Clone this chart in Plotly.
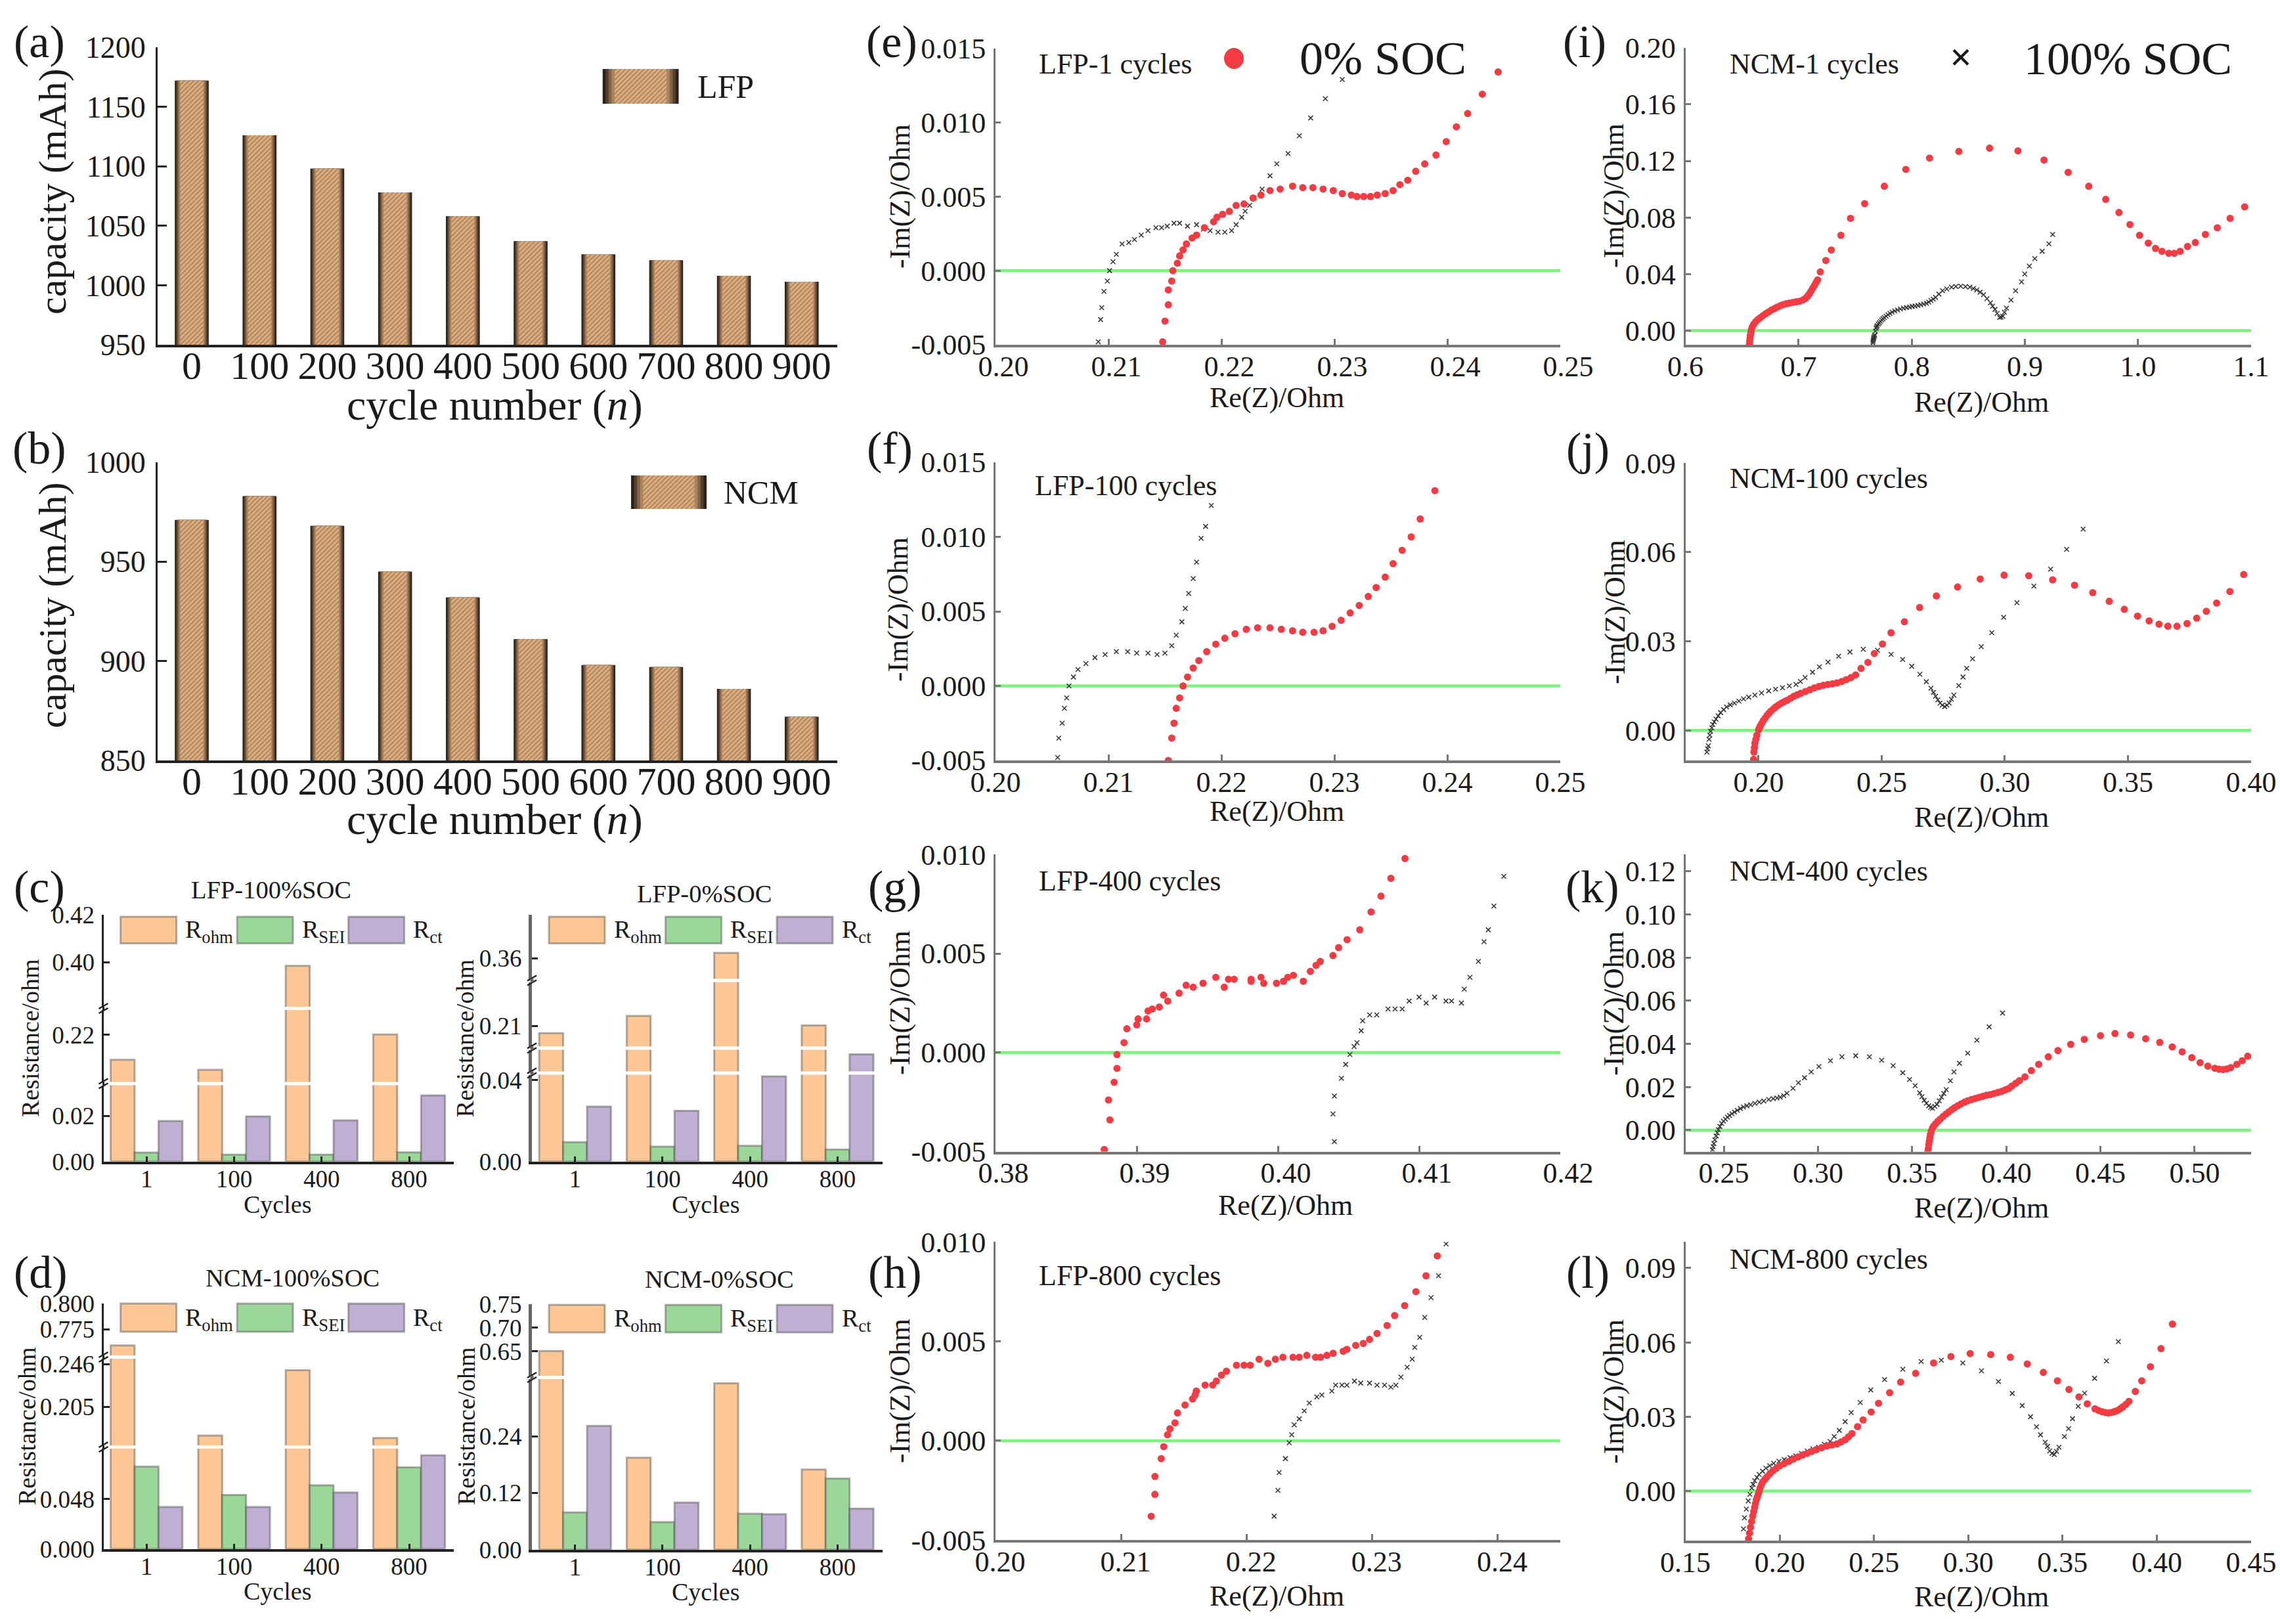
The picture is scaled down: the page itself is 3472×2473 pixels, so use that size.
import plotly.graph_objects as go

W, H = 3472, 2473
FONT = "Liberation Serif"

# ---------- capacity data ----------
cycle_labels = ["0", "100", "200", "300", "400", "500", "600", "700", "800", "900"]
lfp_capacity = [1172, 1126, 1098, 1078, 1058, 1037, 1026, 1021, 1008, 1003]
ncm_capacity = [971, 983, 968, 945, 932, 911, 898, 897, 886, 872]
legend_key = [1]

# ---------- resistance data ----------
res_cycles = ["1", "100", "400", "800"]
c1_ohm = [0.2094, 0.2052, 0.3984, 0.2201]
c1_sei = [0.0039, 0.0030, 0.0030, 0.0040]
c1_ct = [0.0177, 0.0197, 0.0180, 0.0289]
c2_ohm = [0.2068, 0.2146, 0.3624, 0.2103]
c2_sei = [0.0095, 0.0073, 0.0077, 0.0058]
c2_ct = [0.0270, 0.0249, 0.0418, 0.0526]
d1_ohm = [0.7596, 0.1772, 0.2402, 0.1747]
d1_sei = [0.0792, 0.0519, 0.0612, 0.0785]
d1_ct = [0.0404, 0.0404, 0.0543, 0.0901]
d2_ohm = [0.651, 0.1945, 0.3517, 0.1695]
d2_sei = [0.0789, 0.0583, 0.0761, 0.1503]
d2_ct = [0.262, 0.0997, 0.0751, 0.0868]

# ---------- impedance data ----------
e_red_x = [.2148,.2150,.2153,.2153,.2156,.2157,.2161,.2163,.2166,.2169,.2174,.2178,.2185,.2193,.2196,.2201,.2207,.2213,.2220,.2228,.2235,.2243,.2252,.2263,.2272,.2281,.2290,.2299,.2307,.2315,.2320,.2326,.2332,.2338,.2345,.2352,.2358,.2365,.2372,.2380,.2390,.2399,.2408,.2418,.2431,.2445]
e_red_y = [-.0048,-.0034,-.0023,-.0013,-.0007,0,.0005,.0010,.0014,.0018,.0022,.0024,.0029,.0033,.0036,.0038,.0040,.0044,.0045,.0049,.0051,.0054,.0055,.0057,.0056,.0056,.0055,.0054,.0052,.0051,.0050,.0050,.0050,.0051,.0052,.0054,.0058,.0061,.0067,.0072,.0078,.0087,.0097,.0106,.0119,.0134]
e_blk_x = [.2091,.2093,.2094,.2096,.2099,.2101,.2104,.2107,.2112,.2118,.2123,.2129,.2135,.2142,.2147,.2152,.2158,.2163,.2170,.2178,.2184,.2190,.2197,.2203,.2209,.2213,.2218,.2221,.2225,.2229,.2236,.2243,.2249,.2259,.2269,.2279,.2292,.2307]
e_blk_y = [-.0048,-.0033,-.0025,-.0014,-.0007,0,.0006,.0011,.0018,.0019,.0021,.0024,.0027,.0029,.0029,.0030,.0032,.0032,.0030,.0031,.0028,.0027,.0026,.0026,.0027,.0031,.0036,.0040,.0044,.0049,.0055,.0064,.0072,.0079,.0091,.0103,.0116,.0129]

f_red_x = [.2153,.2156,.2158,.2160,.2163,.2166,.2170,.2175,.2180,.2187,.2195,.2203,.2212,.2222,.2232,.2243,.2253,.2263,.2272,.2282,.2290,.2298,.2306,.2314,.2322,.2330,.2337,.2345,.2352,.2360,.2368,.2376,.2389]
f_red_y = [-.0050,-.0035,-.0025,-.0015,-.0008,0,.0006,.0012,.0017,.0023,.0028,.0032,.0035,.0038,.0039,.0039,.0038,.0037,.0036,.0036,.0037,.0040,.0044,.0049,.0054,.0060,.0066,.0073,.0082,.0091,.0100,.0112,.0131]
f_blk_x = [.2055,.2056,.2059,.2061,.2063,.2065,.2069,.2073,.2080,.2088,.2097,.2107,.2117,.2125,.2135,.2143,.2150,.2156,.2160,.2165,.2168,.2171,.2175,.2178,.2182,.2186,.2191]
f_blk_y = [-.0048,-.0035,-.0025,-.0015,-.0008,0,.0006,.0011,.0015,.0019,.0021,.0023,.0023,.0022,.0022,.0021,.0022,.0027,.0034,.0043,.0052,.0062,.0072,.0083,.0099,.0107,.0121]

g_red_x = [.3877,.3881,.3880,.3884,.3886,.3886,.3891,.3893,.3900,.3901,.3907,.3908,.3911,.3916,.3922,.3919,.3930,.3935,.3940,.3947,.3956,.3962,.3965,.3969,.3981,.3981,.3988,.3990,.3999,.4004,.4007,.4011,.4018,.4023,.4027,.4030,.4039,.4043,.4049,.4058,.4066,.4073,.4080,.4090]
g_red_y = [-.0049,-.0034,-.0024,-.0015,-.0008,-.0001,.0005,.0012,.0014,.0017,.0017,.0021,.0022,.0023,.0026,.0029,.0030,.0034,.0033,.0035,.0038,.0033,.0037,.0037,.0037,.0036,.0038,.0035,.0035,.0036,.0038,.0039,.0036,.0041,.0044,.0046,.0049,.0053,.0057,.0062,.0071,.0079,.0088,.0098]
g_blk_x = [.4040,.4039,.4040,.4045,.4048,.4051,.4054,.4056,.4059,.4060,.4065,.4070,.4078,.4083,.4088,.4093,.4100,.4105,.4111,.4119,.4123,.4130,.4132,.4136,.4142,.4146,.4149,.4153,.4160]
g_blk_y = [-.0045,-.0031,-.0022,-.0013,-.0006,-.0001,.0003,.0005,.0011,.0016,.0019,.0019,.0022,.0022,.0022,.0026,.0028,.0025,.0028,.0026,.0026,.0025,.0032,.0038,.0046,.0056,.0062,.0074,.0089]

h_red_x = [.2124,.2127,.2127,.2132,.2134,.2137,.2139,.2143,.2145,.2151,.2157,.2159,.2160,.2167,.2173,.2176,.2180,.2184,.2192,.2198,.2203,.2210,.2217,.2223,.2229,.2237,.2242,.2248,.2255,.2259,.2264,.2269,.2277,.2280,.2287,.2293,.2298,.2304,.2312,.2318,.2326,.2335,.2343,.2352]
h_red_y = [-.0038,-.0027,-.0018,-.0009,-.0003,.0003,.0006,.0009,.0014,.0018,.0021,.0023,.0025,.0028,.0028,.0030,.0033,.0035,.0038,.0038,.0038,.0041,.0039,.0041,.0042,.0042,.0042,.0043,.0042,.0042,.0043,.0044,.0045,.0046,.0048,.0049,.0051,.0054,.0058,.0063,.0068,.0075,.0083,.0093]
h_blk_x = [.2222,.2225,.2226,.2231,.2234,.2236,.2238,.2242,.2246,.2250,.2256,.2260,.2268,.2271,.2276,.2280,.2286,.2291,.2298,.2304,.2310,.2315,.2319,.2323,.2328,.2332,.2334,.2338,.2342,.2347,.2353,.2359]
h_blk_y = [-.0038,-.0025,-.0016,-.0009,-.0001,.0003,.0008,.0011,.0015,.0019,.0022,.0023,.0025,.0028,.0028,.0028,.0030,.0029,.0029,.0028,.0028,.0027,.0028,.0032,.0037,.0041,.0047,.0052,.0062,.0072,.0083,.0099]

i_red_x = [.6566,.6568,.6571,.6574,.6578,.6582,.6590,.6603,.6620,.6640,.6662,.6685,.6710,.6735,.6760,.6785,.6810,.6835,.6860,.6890,.6920,.6950,.6980,.7010,.7040,.7060,.7080,.7095,.7110,.7125,.7140,.7155,.7168,.7192,.7241,.7289,.7374,.7459,.7584,.7758,.7948,.8158,.8417,.8688,.8939,.9169,.9383,.9565,.9715,.9832,.9929,1.0014,1.0091,1.0155,1.0212,1.0272,1.0321,1.0373,1.0438,1.0507,1.0596,1.0701,1.0814,1.0943]
i_red_y = [-.0097,-.0075,-.0055,-.0035,-.0015,.0005,.0025,.0045,.0062,.0078,.0092,.0106,.0120,.0132,.0145,.0155,.0166,.0175,.0183,.0190,.0195,.0200,.0204,.0208,.0217,.0228,.0243,.0260,.0280,.0300,.0320,.0340,.0358,.0415,.0496,.0570,.0674,.0794,.0898,.1021,.1140,.1220,.1267,.1290,.1271,.1206,.1119,.1021,.0928,.0835,.0750,.0674,.0619,.0581,.0561,.0547,.0547,.0561,.0595,.0623,.0680,.0727,.0794,.0875]
i_blk_x = [.7657,.7658,.7660,.7663,.7665,.7669,.7673,.7679,.7685,.7690,.7695,.7704,.7714,.7724,.7735,.7746,.7758,.7774,.7790,.7808,.7827,.7850,.7875,.7900,.7928,.7954,.7980,.8004,.8029,.8055,.8080,.8105,.8130,.8150,.8170,.8190,.8211,.8240,.8272,.8310,.8352,.8390,.8433,.8475,.8514,.8545,.8575,.8605,.8635,.8665,.8696,.8715,.8736,.8755,.8777,.8790,.8805,.8820,.8838,.8878,.8918,.8971,.8999,.9040,.9088,.9153,.9213,.9246]
i_blk_y = [-.0087,-.0076,-.0065,-.0056,-.0048,-.0040,-.0030,-.0005,.0017,.0027,.0036,.0046,.0055,.0065,.0075,.0084,.0093,.0102,.0112,.0122,.0131,.0139,.0146,.0153,.0159,.0163,.0167,.0171,.0174,.0178,.0183,.0188,.0193,.0202,.0212,.0223,.0235,.0258,.0282,.0295,.0307,.0312,.0314,.0311,.0307,.0298,.0288,.0272,.0254,.0226,.0197,.0173,.0150,.0122,.0093,.0096,.0102,.0130,.0159,.0216,.0282,.0345,.0400,.0456,.0509,.0561,.0614,.0680]

j_red_x = [.1980,.1981,.1983,.1985,.1989,.1993,.2000,.2003,.2007,.2013,.2019,.2027,.2035,.2042,.2050,.2060,.2069,.2081,.2093,.2104,.2115,.2129,.2143,.2157,.2171,.2190,.2208,.2226,.2245,.2263,.2282,.2300,.2319,.2338,.2356,.2375,.2394,.2416,.2444,.2470,.2503,.2538,.2592,.2654,.2722,.2808,.2900,.2997,.3097,.3194,.3283,.3357,.3424,.3485,.3539,.3586,.3626,.3662,.3699,.3740,.3779,.3818,.3860,.3914,.3970]
j_red_y = [-.0097,-.0073,-.0058,-.0043,-.0030,-.0016,.0002,.0008,.0015,.0024,.0033,.0042,.0051,.0058,.0065,.0072,.0079,.0086,.0092,.0097,.0101,.0108,.0115,.0120,.0125,.0131,.0137,.0143,.0148,.0152,.0155,.0157,.0160,.0165,.0171,.0178,.0187,.0209,.0229,.0259,.0291,.0329,.0366,.0414,.0453,.0483,.0510,.0523,.0521,.0507,.0489,.0464,.0435,.0408,.0385,.0369,.0358,.0351,.0351,.0360,.0378,.0401,.0429,.0468,.0525]
j_blk_x = [.1790,.1793,.1796,.1799,.1802,.1805,.1810,.1814,.1820,.1827,.1836,.1846,.1858,.1870,.1885,.1902,.1920,.1939,.1960,.1985,.2012,.2041,.2069,.2097,.2125,.2152,.2170,.2189,.2219,.2247,.2282,.2325,.2371,.2425,.2483,.2538,.2585,.2622,.2655,.2681,.2700,.2710,.2719,.2728,.2737,.2746,.2756,.2765,.2774,.2783,.2793,.2813,.2830,.2845,.2869,.2904,.2947,.2995,.3049,.3118,.3186,.3251,.3318]
j_blk_y = [-.0073,-.0062,-.0052,-.0030,-.0016,-.0003,.0009,.0020,.0029,.0038,.0049,.0060,.0070,.0079,.0086,.0092,.0099,.0106,.0112,.0119,.0126,.0133,.0139,.0144,.0150,.0155,.0165,.0178,.0196,.0214,.0230,.0250,.0264,.0273,.0270,.0256,.0239,.0216,.0189,.0164,.0142,.0128,.0115,.0103,.0092,.0085,.0080,.0085,.0092,.0105,.0119,.0151,.0180,.0209,.0241,.0282,.0329,.0381,.0430,.0486,.0543,.0610,.0678]

k_red_x = [.3584,.3586,.3588,.3591,.3594,.3597,.3601,.3608,.3615,.3625,.3636,.3649,.3665,.3680,.3695,.3710,.3725,.3742,.3760,.3778,.3795,.3815,.3835,.3855,.3875,.3895,.3915,.3935,.3955,.3975,.3995,.4014,.4030,.4050,.4070,.4099,.4133,.4172,.4223,.4274,.4342,.4414,.4500,.4577,.4660,.4740,.4815,.4881,.4934,.4985,.5029,.5070,.5107,.5130,.5151,.5172,.5192,.5224,.5253,.5282]
k_red_y = [-.0099,-.0085,-.0067,-.0052,-.0036,-.0020,-.0005,.0010,.0020,.0030,.0041,.0051,.0064,.0075,.0085,.0095,.0104,.0113,.0122,.0130,.0136,.0142,.0147,.0152,.0157,.0162,.0165,.0170,.0175,.0180,.0187,.0194,.0205,.0217,.0230,.0247,.0276,.0305,.0340,.0369,.0398,.0421,.0438,.0448,.0441,.0424,.0407,.0386,.0363,.0336,.0313,.0297,.0287,.0283,.0281,.0284,.0290,.0305,.0322,.0343]
k_blk_x = [.2439,.2443,.2447,.2452,.2459,.2465,.2471,.2479,.2488,.2498,.2508,.2519,.2530,.2543,.2556,.2572,.2588,.2604,.2622,.2642,.2665,.2688,.2712,.2738,.2762,.2782,.2799,.2818,.2835,.2867,.2896,.2928,.2964,.3005,.3066,.3127,.3200,.3273,.3338,.3399,.3450,.3486,.3516,.3540,.3552,.3564,.3576,.3588,.3598,.3608,.3620,.3632,.3644,.3656,.3668,.3681,.3703,.3722,.3751,.3795,.3844,.3909,.3980]
k_blk_y = [-.0091,-.0076,-.0062,-.0045,-.0027,-.0012,.0002,.0017,.0031,.0042,.0051,.0060,.0068,.0076,.0084,.0092,.0100,.0107,.0113,.0118,.0124,.0130,.0135,.0142,.0146,.0149,.0153,.0160,.0171,.0194,.0220,.0243,.0270,.0295,.0322,.0340,.0345,.0340,.0324,.0299,.0266,.0235,.0206,.0173,.0155,.0138,.0125,.0113,.0106,.0101,.0110,.0119,.0136,.0153,.0170,.0188,.0229,.0270,.0310,.0357,.0417,.0479,.0543]

l_red_x = [.1835,.1840,.1845,.1851,.1857,.1862,.1867,.1871,.1876,.1881,.1886,.1891,.1896,.1903,.1910,.1921,.1932,.1948,.1964,.1982,.2000,.2024,.2049,.2073,.2097,.2121,.2146,.2170,.2194,.2222,.2250,.2277,.2303,.2325,.2347,.2365,.2383,.2413,.2442,.2485,.2524,.2583,.2641,.2721,.2816,.2908,.3010,.3119,.3223,.3313,.3398,.3473,.3534,.3587,.3631,.3672,.3692,.3711,.3727,.3743,.3758,.3772,.3784,.3796,.3808,.3820,.3836,.3852,.3886,.3920,.3966,.4022,.4083]
l_red_y = [-.0193,-.0170,-.0146,-.0123,-.0101,-.0083,-.0066,-.0051,-.0036,-.0024,-.0013,-.0001,.0012,.0025,.0037,.0047,.0057,.0070,.0082,.0092,.0102,.0111,.0120,.0129,.0137,.0145,.0152,.0160,.0167,.0175,.0182,.0186,.0190,.0198,.0207,.0219,.0232,.0260,.0287,.0319,.0354,.0397,.0440,.0475,.0517,.0543,.0555,.0551,.0540,.0513,.0479,.0445,.0410,.0380,.0352,.0332,.0325,.0320,.0317,.0315,.0317,.0320,.0323,.0327,.0333,.0340,.0350,.0362,.0402,.0445,.0502,.0575,.0674]
l_blk_x = [.1808,.1813,.1823,.1833,.1842,.1852,.1859,.1867,.1879,.1891,.1909,.1927,.1947,.1968,.1996,.2024,.2055,.2085,.2115,.2146,.2176,.2206,.2237,.2267,.2289,.2316,.2347,.2379,.2427,.2483,.2556,.2653,.2750,.2857,.2971,.3070,.3160,.3233,.3286,.3330,.3362,.3383,.3408,.3420,.3432,.3444,.3456,.3468,.3481,.3510,.3532,.3553,.3583,.3617,.3670,.3733,.3796]
l_blk_y = [-.0153,-.0108,-.0073,-.0040,-.0013,.0012,.0027,.0042,.0055,.0067,.0080,.0092,.0102,.0112,.0120,.0127,.0135,.0142,.0152,.0162,.0170,.0177,.0189,.0200,.0220,.0245,.0280,.0317,.0357,.0408,.0450,.0492,.0523,.0528,.0517,.0485,.0442,.0394,.0345,.0300,.0259,.0227,.0197,.0180,.0162,.0152,.0147,.0160,.0177,.0220,.0252,.0292,.0342,.0395,.0455,.0525,.0603]

# ---------- colours ----------
ORANGE, GREEN, PURPLE = "#FCC794", "#9CD79A", "#BFAFD3"
EDGE = "rgba(70,70,70,0.42)"
RED, BLK = "#F23B42", "#333333"
AXGREY = "#777777"

fig = go.Figure()
layout = {}
shapes, annotations = [], []
ax_n = [0]


def fx(px):
    return px / W


def fy(py):
    return 1 - py / H


def new_x():
    ax_n[0] += 1
    return ax_n[0]


def text(px, py, s, size, anchor="center", angle=0, bold=False, color="#1a1a1a"):
    annotations.append(dict(
        x=fx(px), y=fy(py), xref="paper", yref="paper", text=f"<b>{s}</b>" if bold else s,
        showarrow=False, xanchor=anchor, yanchor="middle", textangle=angle,
        font=dict(family=FONT, size=size, color=color)))


def hatched_bars(xa, ya, xs, ys, slot):
    layers = [(1.00, "#2d2118"), (0.92, "#54402e"), (0.84, "#846547"), (0.76, "#ac845d")]
    for frac, col in layers:
        w = slot * frac
        fig.add_trace(go.Bar(x=xs, y=ys, xaxis=xa, yaxis=ya, width=w, offset=-w / 2,
                             marker=dict(color=col, line=dict(width=0)), showlegend=False))
    w = slot * 0.68
    fig.add_trace(go.Bar(x=xs, y=ys, xaxis=xa, yaxis=ya, width=w, offset=-w / 2,
                         marker=dict(color="#D8A878", line=dict(width=0),
                                     pattern=dict(shape="/", fgcolor="#A98059", bgcolor="#DEAE82",
                                                  size=5, solidity=0.35)),
                         showlegend=False))


def capacity_panel(vals, top, bot, yrange, name, keybox, key_txt):
    n = new_x()
    xa, ya = f"x{n}", f"y{n}"
    xs = list(range(len(cycle_labels)))
    hatched_bars(xa, ya, xs, vals, 0.5)
    layout[f"xaxis{n}"] = dict(domain=[fx(240), fx(1275)], range=[-0.504, 9.525], anchor=ya, automargin=False,
                               tickvals=xs, ticktext=cycle_labels, ticks="", showgrid=False, zeroline=False,
                               showline=True, linecolor="#222", linewidth=4,
                               tickfont=dict(family=FONT, size=60, color="#1a1a1a"), ticklabelstandoff=-24)
    step = 50
    tv = list(range(yrange[0], yrange[1] + 1, step))
    layout[f"yaxis{n}"] = dict(domain=[fy(bot), fy(top)], range=yrange, anchor=xa, tickvals=tv, automargin=False,
                               ticktext=[str(v) for v in tv], ticks="inside", ticklen=14, tickwidth=3,
                               tickcolor="#222", showgrid=False, zeroline=False, showline=True,
                               linecolor="#222", linewidth=3,
                               tickfont=dict(family=FONT, size=46, color="#1a1a1a"), ticklabelstandoff=6)
    # key
    k = new_x()
    hatched_bars(f"x{k}", f"y{k}", [0], legend_key, 1.0)
    layout[f"xaxis{k}"] = dict(domain=[fx(keybox[0]), fx(keybox[1])], range=[-0.5, 0.5], anchor=f"y{k}", visible=False, automargin=False)
    layout[f"yaxis{k}"] = dict(domain=[fy(keybox[3]), fy(keybox[2])], range=[0, 1], anchor=f"x{k}", visible=False, automargin=False)
    text(key_txt[0], key_txt[1], name, 50, anchor="left")


capacity_panel(lfp_capacity, 72, 525, [950, 1200], "LFP", (917.5, 1033.7, 105, 158), (1060, 132))
capacity_panel(ncm_capacity, 704, 1158, [850, 1000], "NCM", (961, 1076, 724, 775), (1100, 750))
text(80, 292, "capacity (mAh)", 60, angle=-90)
text(80, 922, "capacity (mAh)", 60, angle=-90)
text(753, 617, "cycle number (<i>n</i>)", 66)
text(753, 1248, "cycle number (<i>n</i>)", 66)


def res_panel(L, R, base_px, segs, ohm, sei, ct, keyL, key_top, key_bot, title, ylab, cyc_y, ycol="#222", yw=3):
    n = new_x()
    xa = f"x{n}"
    first_y = None
    xs = list(range(len(res_cycles)))
    for i, (pb, pt, ref_v, ref_px, scale, ticks, labels) in enumerate(segs):
        m = new_x() if i > 0 else n
        ya = f"y{m}"
        if i == 0:
            first_y = ya
        lo = ref_v - (pb - ref_px) / scale
        hi = ref_v + (ref_px - pt) / scale
        for vals, col in ((ohm, ORANGE), (sei, GREEN), (ct, PURPLE)):
            fig.add_trace(go.Bar(x=xs, y=vals, xaxis=xa, yaxis=ya, showlegend=False,
                                 marker=dict(color=col, line=dict(color=EDGE, width=3))))
        layout[f"yaxis{m}"] = dict(domain=[fy(pb), fy(pt)], range=[lo, hi], anchor=xa, tickvals=ticks, automargin=False,
                                   ticktext=labels, ticks="inside", ticklen=9, tickwidth=3, tickcolor="#222",
                                   showgrid=False, zeroline=False, showline=True, linecolor=ycol, linewidth=yw,
                                   tickfont=dict(family=FONT, size=37, color="#1a1a1a"), ticklabelstandoff=3)
        if i > 0:
            gap = (segs[i - 1][1] + pb) / 2
            for dy in (-3.5, 3.5):
                shapes.append(dict(type="line", xref="paper", yref="paper", x0=fx(L - 7), x1=fx(L + 7),
                                   y0=fy(gap + dy + 4), y1=fy(gap + dy - 4),
                                   line=dict(color="#222", width=2.5)))
            shapes.append(dict(type="line", xref="paper", yref="paper", x0=fx(L), x1=fx(L),
                               y0=fy(pb), y1=fy(segs[i - 1][1]), line=dict(color=ycol, width=yw)))
    layout[f"xaxis{n}"] = dict(domain=[fx(L), fx(R)], range=[-0.493, 3.51], anchor=first_y, tickvals=xs, automargin=False,
                               ticktext=res_cycles, ticks="inside", ticklen=8, tickwidth=3, tickcolor="#222",
                               showgrid=False, zeroline=False, showline=True, linecolor="#222", linewidth=4,
                               tickfont=dict(family=FONT, size=37, color="#1a1a1a"), ticklabelstandoff=-9)
    key_cols = (ORANGE, GREEN, PURPLE)
    key_names = ("R<sub>ohm</sub>", "R<sub>SEI</sub>", "R<sub>ct</sub>")
    for offs, col, name in zip((0, 177.5, 347), key_cols, key_names):
        x0 = keyL + offs
        shapes.append(dict(type="rect", xref="paper", yref="paper", x0=fx(x0), x1=fx(x0 + 85),
                           y0=fy(key_bot), y1=fy(key_top), fillcolor=col, line=dict(color=EDGE, width=3)))
        text(x0 + 96.5, (key_top + key_bot) / 2 + 2, name, 38, anchor="left")
    text(title[0], title[1], title[2], 38.5)
    text(ylab[0], ylab[1], "Resistance/ohm", 38, angle=-90)
    text((L + R) / 2 - 2, cyc_y, "Cycles", 38)


res_panel(157.5, 691, 1768.6, [
    (1768.6, 1652.5, 0.0, 1768.6, 3480, [0.0, 0.02], ["0.00", "0.02"]),
    (1647.5, 1538, 0.22, 1575.7, 3600, [0.22], ["0.22"]),
    (1533, 1393, 0.40, 1465, 3600, [0.40, 0.42], ["0.40", "0.42"]),
], c1_ohm, c1_sei, c1_ct, 183.6, 1396, 1436.5, (413, 1355, "LFP-100%SOC"), (46, 1581), 1834)

res_panel(810, 1343.5, 1768.6, [
    (1768.6, 1636.5, 0.0, 1768.6, 3100, [0.0, 0.04], ["0.00", "0.04"]),
    (1631.5, 1598.5, 0.04, 1644.6, 3100, [], []),
    (1593.5, 1495.5, 0.21, 1562.5, 3365, [0.21], ["0.21"]),
    (1490.5, 1393, 0.36, 1459, 3365, [0.36], ["0.36"]),
], c2_ohm, c2_sei, c2_ct, 836, 1396, 1436.5, (1072.6, 1361, "LFP-0%SOC"), (707.5, 1581), 1834, "#666", 5)

res_panel(157.5, 691, 2358.7, [
    (2358.7, 2206, 0.0, 2358.7, 1583, [0.0, 0.048], ["0.000", "0.048"]),
    (2201, 2069, 0.205, 2142, 1580, [0.205, 0.246], ["0.205", "0.246"]),
    (2064, 1984.8, 0.775, 2024.3, 1580, [0.775, 0.80], ["0.775", "0.800"]),
], d1_ohm, d1_sei, d1_ct, 183.6, 1985, 2028, (445, 1946, "NCM-100%SOC"), (41, 2172), 2423)

res_panel(810, 1343.5, 2359.8, [
    (2359.8, 2100, 0.0, 2359.8, 720, [0.0, 0.12, 0.24], ["0.00", "0.12", "0.24"]),
    (2095, 1985.9, 0.65, 2057.9, 720, [0.65, 0.70, 0.75], ["0.65", "0.70", "0.75"]),
], d2_ohm, d2_sei, d2_ct, 836, 1987, 2029, (1095.5, 1947.5, "NCM-0%SOC"), (710, 2172), 2424, "#666", 5)


def eis_panel(box, xr, yr, xt, yt, xfmt, yfmt, red, blk, shift, lab, xlab, ylab):
    L, R, T, B = box
    n = new_x()
    xa, ya = f"x{n}", f"y{n}"
    shapes.append(dict(type="line", xref=f"{xa} domain", yref=ya, x0=0, x1=1, y0=0, y1=0, layer="below",
                       line=dict(color="#7DF27D", width=4.5)))
    fig.add_trace(go.Scatter(x=blk[0], y=blk[1], xaxis=xa, yaxis=ya, mode="markers", showlegend=False,
                             marker=dict(symbol="x-thin", size=7, color=BLK, line=dict(width=1.5, color=BLK))))
    fig.add_trace(go.Scatter(x=red[0], y=red[1], xaxis=xa, yaxis=ya, mode="markers", showlegend=False,
                             marker=dict(symbol="circle", size=11, color=RED, line=dict(width=0))))
    layout[f"xaxis{n}"] = dict(domain=[fx(L), fx(R)], range=xr, anchor=ya, tickvals=xt, automargin=False,
                               ticktext=[xfmt.format(v) for v in xt], ticks="inside", ticklen=9, tickwidth=3,
                               tickcolor=AXGREY, showgrid=False, zeroline=False, showline=True,
                               linecolor=AXGREY, linewidth=3.5, ticklabelshift=shift, ticklabelstandoff=-9,
                               tickfont=dict(family=FONT, size=44, color="#1a1a1a"))
    layout[f"yaxis{n}"] = dict(domain=[fy(B), fy(T)], range=yr, anchor=xa, tickvals=yt, automargin=False,
                               ticktext=[yfmt.format(v) for v in yt], ticks="inside", ticklen=8, tickwidth=3,
                               tickcolor=AXGREY, showgrid=False, zeroline=False, showline=True,
                               linecolor=AXGREY, linewidth=3, ticklabelstandoff=3,
                               tickfont=dict(family=FONT, size=44, color="#1a1a1a"))
    text(lab[0], lab[1], lab[2], 44, anchor="left")
    text(xlab[0], xlab[1], "Re(Z)/Ohm", 44)
    text(ylab[0], ylab[1], "-Im(Z)/Ohm", 44, angle=-90)


ELEFT = (1516, 2376)
NLEFT = (2566.6, 3428)
eis_panel((*ELEFT, 73.5, 525), [.20, .25], [-.005, .015], [.20, .21, .22, .23, .24, .25], [-.005, 0, .005, .010, .015],
          "{:.2f}", "{:.3f}", (e_red_x, e_red_y), (e_blk_x, e_blk_y), 12, (1580, 98, "LFP-1 cycles"), (1945, 606), (1370, 299))
eis_panel((*ELEFT, 704, 1158), [.20, .25], [-.005, .015], [.20, .21, .22, .23, .24, .25], [-.005, 0, .005, .010, .015],
          "{:.2f}", "{:.3f}", (f_red_x, f_red_y), (f_blk_x, f_blk_y), 0, (1574, 740, "LFP-100 cycles"), (1945, 1235), (1368, 928))
eis_panel((*ELEFT, 1301.3, 1753.5), [.38, .42], [-.005, .010], [.38, .39, .40, .41, .42], [-.005, 0, .005, .010],
          "{:.2f}", "{:.3f}", (g_red_x, g_red_y), (g_blk_x, g_blk_y), 12, (1580, 1341, "LFP-400 cycles"), (1957, 1835.5), (1370, 1527))
eis_panel((*ELEFT, 1891.3, 2345.2), [.20, .245], [-.005, .010], [.20, .21, .22, .23, .24], [-.005, 0, .005, .010],
          "{:.2f}", "{:.3f}", (h_red_x, h_red_y), (h_blk_x, h_blk_y), 7, (1580, 1942, "LFP-800 cycles"), (1945, 2430), (1370, 2118))
eis_panel((*NLEFT, 72.7, 525), [.6, 1.1], [-.01, .20], [.6, .7, .8, .9, 1.0, 1.1], [0, .04, .08, .12, .16, .20],
          "{:.1f}", "{:.2f}", (i_red_x, i_red_y), (i_blk_x, i_blk_y), 0, (2632, 98, "NCM-1 cycles"), (3017, 612), (2457, 298))
eis_panel((*NLEFT, 705.3, 1158.4), [.1703, .40], [-.0102, .09], [.20, .25, .30, .35, .40], [0, .03, .06, .09],
          "{:.2f}", "{:.2f}", (j_red_x, j_red_y), (j_blk_x, j_blk_y), 0, (2632, 728, "NCM-100 cycles"), (3017, 1244), (2460, 932))
eis_panel((*NLEFT, 1300.5, 1753.5), [.2296, .530], [-.0099, .128], [.25, .30, .35, .40, .45, .50], [0, .02, .04, .06, .08, .10, .12],
          "{:.2f}", "{:.2f}", (k_red_x, k_red_y), (k_blk_x, k_blk_y), 0, (2632, 1326, "NCM-400 cycles"), (3017, 1839), (2457, 1528))
eis_panel((*NLEFT, 1890.6, 2346), [.15, .45], [-.02, .1007], [.15, .20, .25, .30, .35, .40, .45], [0, .03, .06, .09],
          "{:.2f}", "{:.2f}", (l_red_x, l_red_y), (l_blk_x, l_blk_y), 0, (2632, 1917, "NCM-800 cycles"), (3017, 2431), (2457, 2119))

# SOC key
shapes.append(dict(type="circle", xref="paper", yref="paper", x0=fx(1864), x1=fx(1894), y0=fy(105), y1=fy(73),
                   fillcolor=RED, line=dict(width=0)))
text(2106, 89, "0% SOC", 72)
text(2986, 87, "×", 60, bold=True)
text(3240, 89, "100% SOC", 70)

# panel letters
panel_letters = [("(a)", 60, 63), ("(b)", 60, 682), ("(c)", 60, 1350), ("(d)", 62, 1937),
                 ("(e)", 1358, 63), ("(f)", 1355, 682), ("(g)", 1363, 1350), ("(h)", 1363, 1937),
                 ("(i)", 2413, 63), ("(j)", 2418, 683), ("(k)", 2425, 1350), ("(l)", 2418, 1937)]
for s, px, py in panel_letters:
    text(px, py, s, 70)

fig.update_layout(template="none", width=W, height=H, autosize=False, margin=dict(l=0, r=0, t=0, b=0, pad=0),
                  paper_bgcolor="white", plot_bgcolor="rgba(0,0,0,0)", barmode="group", bargap=0.18, bargroupgap=0,
                  showlegend=False, shapes=shapes, annotations=annotations, **layout)
fig.write_html("out.html", config={"displayModeBar": False}, post_script="document.body.style.margin='0';")
